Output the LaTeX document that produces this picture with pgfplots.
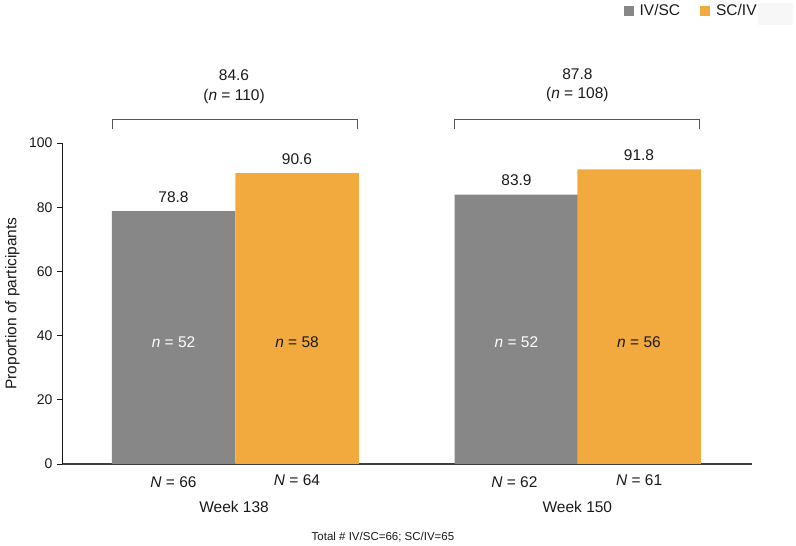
\documentclass[border=0pt]{standalone}
\usepackage{fontspec}
\setmainfont{Liberation Sans}
\usepackage{pgfplots}
\pgfplotsset{compat=1.18}
\definecolor{ivsc}{HTML}{878787}
\definecolor{sciv}{HTML}{F2AA3E}
\definecolor{txt}{HTML}{1A1A1A}
\definecolor{brk}{HTML}{555555}

\newcommand{\lbl}{\fontsize{15.5}{17}\selectfont}

\begin{document}
\begin{tikzpicture}
% faint box behind the legend's right end
\fill[black!3] (696pt,439pt) rectangle (731pt,461pt);
\begin{axis}[
  at={(0pt,0pt)}, anchor=south west,
  scale only axis, width=690pt, height=321pt,
  xmin=-0.903, xmax=4.684, ymin=0, ymax=100,
  enlargelimits=false, clip=false,
  axis x line=bottom, axis y line=left,
  axis line style={-, draw=txt, line width=0.9pt},
  x axis line style={line width=1.5pt, draw=black!75},
  xtick=\empty,
  ytick={0,20,...,100},
  tick align=outside, major tick length=5pt,
  ytick style={draw=txt, line width=0.9pt},
  yticklabel style={font=\fontsize{14}{16}\selectfont, text=txt, xshift=-1pt},
  /pgf/number format/assume math mode=true,
  ylabel={Proportion of participants},
  ylabel style={at={(axis description cs:-0.072,0.5)}, anchor=center,
    font=\fontsize{15.5}{17}\selectfont, text=txt},
  ybar, bar shift=0pt, bar width=1,
  nodes near coords,
  nodes near coords style={font=\lbl, text=txt, anchor=south, yshift=5pt,
    /pgf/number format/.cd, fixed, fixed zerofill, precision=1},
  legend style={at={(axis cs:3.643,141.2)}, anchor=west, draw=none, fill=none,
    legend columns=2, font=\lbl, text=txt, inner sep=0pt,
    /tikz/every even column/.append style={column sep=14pt},
    nodes={inner xsep=6pt}},
  legend image code/.code={\fill[#1] (0pt,-5pt) rectangle (10pt,5pt);},
]
\addplot[fill=ivsc, draw=none] coordinates {(0,78.8) (2.777,83.9)};
\addplot[fill=sciv, draw=none] coordinates {(1,90.6) (3.769,91.8)};
\legend{IV/SC, SC/IV}

% inner n labels
\node[font=\lbl, text=white] at (axis cs:0,38) {\textit{n} = 52};
\node[font=\lbl, text=txt] at (axis cs:1,38) {\textit{n} = 58};
\node[font=\lbl, text=white] at (axis cs:2.777,38) {\textit{n} = 52};
\node[font=\lbl, text=txt] at (axis cs:3.769,38) {\textit{n} = 56};

% brackets and pooled values
\draw[brk, line width=0.9pt] (axis cs:-0.497,104.5) -- (axis cs:-0.497,107.2)
  -- (axis cs:1.487,107.2) -- (axis cs:1.487,104.5);
\draw[brk, line width=0.9pt] (axis cs:2.272,104.5) -- (axis cs:2.272,107.2)
  -- (axis cs:4.255,107.2) -- (axis cs:4.255,104.5);
\node[font=\lbl, text=txt] at (axis cs:0.49,121.0) {84.6};
\node[font=\lbl, text=txt] at (axis cs:0.49,114.5) {(\textit{n} = 110)};
\node[font=\lbl, text=txt] at (axis cs:3.27,121.5) {87.8};
\node[font=\lbl, text=txt] at (axis cs:3.27,115.0) {(\textit{n} = 108)};

% N per bar and week labels
\node[font=\lbl, text=txt] at (axis cs:0,-5.8) {\textit{N} = 66};
\node[font=\lbl, text=txt] at (axis cs:1,-5.0) {\textit{N} = 64};
\node[font=\lbl, text=txt] at (axis cs:2.76,-5.6) {\textit{N} = 62};
\node[font=\lbl, text=txt] at (axis cs:3.77,-5.0) {\textit{N} = 61};
\node[font=\lbl, text=txt] at (axis cs:0.49,-13.4) {Week 138};
\node[font=\lbl, text=txt] at (axis cs:3.27,-13.4) {Week 150};
\node[font=\fontsize{11.5}{13}\selectfont, text=txt] at (axis cs:1.696,-22.7)
  {Total \# IV/SC=66; SC/IV=65};
\end{axis}
\pgfresetboundingbox
\useasboundingbox (-62pt,-82pt) rectangle (734pt,464pt);
\end{tikzpicture}
\end{document}
